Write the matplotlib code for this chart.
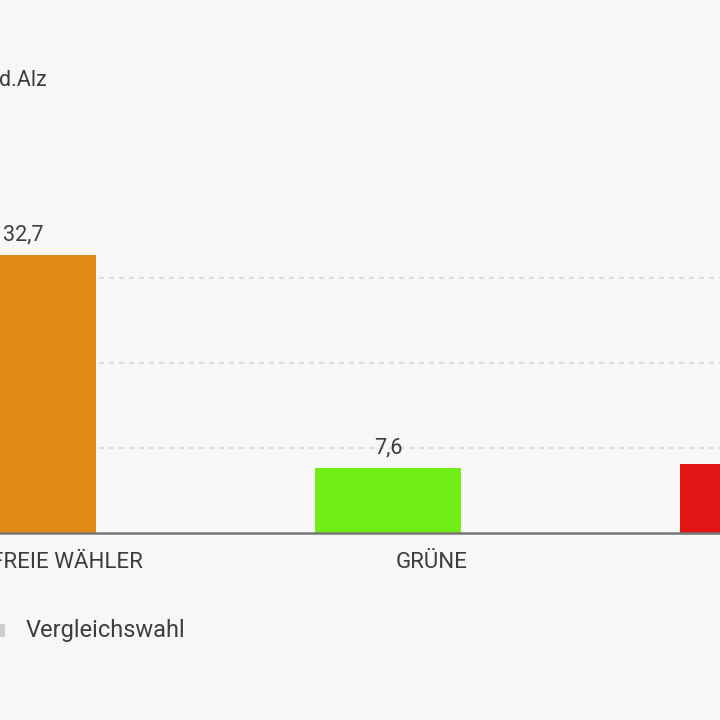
import matplotlib
matplotlib.use("Agg")
import matplotlib.pyplot as plt
from matplotlib.patches import Rectangle

parties = ["FREIE WÄHLER", "GRÜNE", "SPD"]
results = [32.7, 7.6, 8.1]
value_labels = ["32,7", "7,6", "8,1"]
colors = ["#E08A13", "#70EE15", "#E31414"]
legend_label = "Vergleichswahl"
title_text = "d.Alz"
yticks = [10, 20, 30]

BG = "#F7F7F7"
TXT = "#3D3D3D"
plt.rcParams["font.family"] = ["Roboto", "DejaVu Sans"]

W = H = 720
fig = plt.figure(figsize=(7.2, 7.2), dpi=100, facecolor=BG)

# axes geometry in pixels
unit_x = 365.0
x0_px = 66.5
base_px = 533.0
unit_y = 8.5
ymax = 38
xmin, xmax = -0.5, 2.5
left = (x0_px + xmin * unit_x) / W
width = (xmax - xmin) * unit_x / W
bottom = (H - base_px) / H
height = ymax * unit_y / H
ax = fig.add_axes([left, bottom, width, height])
ax.set_facecolor(BG)
ax.set_xlim(xmin, xmax)
ax.set_ylim(0, ymax)

pos = list(range(len(parties)))
bar_off = -0.119
bar_w = 0.4
ax.bar([p + bar_off for p in pos], results, width=bar_w, color=colors,
       zorder=3, linewidth=0)


def inside(xdata):
    px = ax.transData.transform((xdata, 0))[0]
    return -60 < px < W - 20


for p, v, lab in zip(pos, results, value_labels):
    if inside(p + bar_off):
        ax.annotate(lab, (p + bar_off, v), xytext=(0, 7), textcoords="offset points",
                    ha="center", va="bottom", fontsize=15.5, color=TXT)

ax.set_yticks(yticks)
ax.yaxis.grid(True, color="#D8D8D8", linestyle=(0, (3, 3)), linewidth=1.2, zorder=0)
ax.tick_params(axis="y", left=False, labelleft=False)
vis = [p for p in pos if inside(p)]
ax.set_xticks(vis)
ax.set_xticklabels([parties[p] for p in vis], fontsize=16, color=TXT)
ax.tick_params(axis="x", length=0, pad=14)
for s in ["top", "right", "left"]:
    ax.spines[s].set_visible(False)
ax.spines["bottom"].set_color("#777777")
ax.spines["bottom"].set_linewidth(1.8)
ax.spines["bottom"].set_zorder(4)

# title (cropped at the left edge, as in the reference)
fig.text(-1 / W, 1 - 80 / H, title_text, ha="left", va="center", fontsize=15.5, color=TXT)

# legend
fig.patches.append(Rectangle((-7 / W, 1 - 637 / H), 12 / W, 13 / H,
                             transform=fig.transFigure, facecolor="#CCCCCC",
                             edgecolor="none"))
fig.text(26 / W, 1 - 630 / H, legend_label, ha="left", va="center", fontsize=17, color=TXT)

fig.savefig("out.png", dpi=100, facecolor=BG)
